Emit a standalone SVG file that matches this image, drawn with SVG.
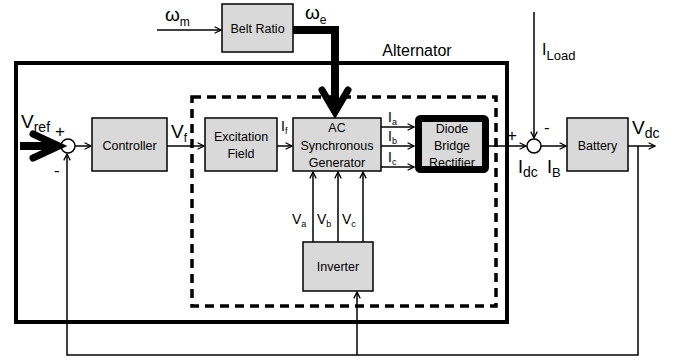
<svg xmlns="http://www.w3.org/2000/svg" width="677" height="364" viewBox="0 0 677 364">
<defs>
<style>
text{font-family:"Liberation Sans",Arial,sans-serif;fill:#000}
.box{fill:#d9d9d9;stroke:#000;stroke-width:1.5}
.lbl{font-size:12.5px;text-anchor:middle}
.sym{font-size:19px}
.sub{font-size:12px}
.w{fill:none;stroke:#000;stroke-width:1.5}
.thick{fill:none;stroke:#000;stroke-width:8}
</style>
<marker id="ah" viewBox="0 0 10 10" refX="9" refY="5" markerWidth="8" markerHeight="8" markerUnits="userSpaceOnUse" orient="auto">
<path d="M1,1 L9,5 L1,9" fill="none" stroke="#000" stroke-width="1.6"/>
</marker>
</defs>
<g id="alternator">
<rect x="16" y="63" width="491" height="259" fill="none" stroke="#000" stroke-width="4"/>
<text x="417" y="56" font-size="16" text-anchor="middle">Alternator</text>
</g>
<g id="dashed-region">
<rect x="192" y="97" width="304" height="209" fill="none" stroke="#000" stroke-width="3.5" stroke-dasharray="9,6"/>
</g>
<g id="belt-ratio">
<rect class="box" x="222" y="4" width="71" height="48"/>
<text class="lbl" x="257.5" y="33">Belt Ratio</text>
</g>
<g id="controller">
<rect class="box" x="92" y="118" width="75" height="53"/>
<text class="lbl" x="129.5" y="150">Controller</text>
</g>
<g id="excitation-field">
<rect class="box" x="205" y="118" width="72" height="53"/>
<text class="lbl" x="241" y="141">Excitation</text>
<text class="lbl" x="241" y="158">Field</text>
</g>
<g id="generator">
<rect class="box" x="293" y="118" width="88" height="53"/>
<text class="lbl" x="337" y="132">AC</text>
<text class="lbl" x="337" y="150">Synchronous</text>
<text class="lbl" x="337" y="167">Generator</text>
</g>
<g id="rectifier">
<rect x="418.5" y="118.5" width="67" height="51" rx="2" fill="#d9d9d9" stroke="#000" stroke-width="7"/>
<text class="lbl" x="452" y="133">Diode</text>
<text class="lbl" x="452" y="150">Bridge</text>
<text class="lbl" x="452" y="167">Rectifier</text>
</g>
<g id="battery">
<rect class="box" x="567" y="118" width="61" height="53"/>
<text class="lbl" x="597.5" y="150">Battery</text>
</g>
<g id="inverter">
<rect class="box" x="303" y="242" width="70" height="49"/>
<text class="lbl" x="338" y="271">Inverter</text>
</g>
<g id="sum1">
<circle cx="68" cy="146" r="7" fill="#fff" stroke="#000" stroke-width="1.5"/>
<text x="55" y="137" font-size="17">+</text>
<text x="54" y="176" font-size="17">-</text>
</g>
<g id="sum2">
<circle cx="534" cy="146" r="7" fill="#fff" stroke="#000" stroke-width="1.5"/>
<text x="507" y="141" font-size="17">+</text>
<text x="544" y="133" font-size="17">-</text>
</g>
<g id="connectors">
<line class="w" x1="157" y1="30" x2="221" y2="30" marker-end="url(#ah)"/>
<polyline class="thick" points="293,30 335,30 335,108" stroke-linejoin="miter"/>
<polyline points="322,90 335,112 348,90" fill="none" stroke="#000" stroke-width="7" stroke-linecap="round"/>
<line class="thick" x1="20" y1="146" x2="52" y2="146" stroke-width="7"/>
<polyline points="33,134 59,146 33,158" fill="none" stroke="#000" stroke-width="7" stroke-linecap="round"/>
<line class="w" x1="75" y1="146" x2="91" y2="146" marker-end="url(#ah)"/>
<line class="w" x1="167" y1="146" x2="204" y2="146" marker-end="url(#ah)"/>
<line class="w" x1="277" y1="146" x2="292" y2="146" marker-end="url(#ah)"/>
<line class="w" x1="381" y1="127" x2="414" y2="127" marker-end="url(#ah)"/>
<line class="w" x1="381" y1="146" x2="414" y2="146" marker-end="url(#ah)"/>
<line class="w" x1="381" y1="167" x2="414" y2="167" marker-end="url(#ah)"/>
<line class="w" x1="489" y1="146" x2="526" y2="146" marker-end="url(#ah)"/>
<line class="w" x1="534" y1="12" x2="534" y2="138" marker-end="url(#ah)"/>
<line class="w" x1="541" y1="146" x2="566" y2="146" marker-end="url(#ah)"/>
<line class="w" x1="628" y1="146" x2="655" y2="146" marker-end="url(#ah)"/>
<polyline class="w" points="638,146 638,355 67,355 67,154" marker-end="url(#ah)"/>
<line class="w" x1="357" y1="355" x2="357" y2="292" marker-end="url(#ah)"/>
<line class="w" x1="313" y1="242" x2="313" y2="172" marker-end="url(#ah)"/>
<line class="w" x1="338" y1="242" x2="338" y2="172" marker-end="url(#ah)"/>
<line class="w" x1="363" y1="242" x2="363" y2="172" marker-end="url(#ah)"/>
</g>
<g id="labels">
<text x="165" y="21"><tspan class="sym">ω</tspan><tspan class="sub" dy="5">m</tspan></text>
<text x="305" y="19"><tspan class="sym">ω</tspan><tspan class="sub" dy="5">e</tspan></text>
<text x="21" y="128"><tspan font-size="19">V</tspan><tspan font-size="14" dy="4">ref</tspan></text>
<text x="171" y="138"><tspan font-size="19">V</tspan><tspan class="sub" dy="4">f</tspan></text>
<text x="281" y="131"><tspan font-size="14">I</tspan><tspan font-size="9" dy="3">f</tspan></text>
<text x="388" y="122"><tspan font-size="14">I</tspan><tspan font-size="9" dy="3">a</tspan></text>
<text x="388" y="141"><tspan font-size="14">I</tspan><tspan font-size="9" dy="3">b</tspan></text>
<text x="388" y="162"><tspan font-size="14">I</tspan><tspan font-size="9" dy="3">c</tspan></text>
<text x="542" y="55"><tspan font-size="16">I</tspan><tspan font-size="13" dy="5">Load</tspan></text>
<text x="518" y="173"><tspan font-size="18">I</tspan><tspan font-size="14" dy="4">dc</tspan></text>
<text x="547" y="173"><tspan font-size="18">I</tspan><tspan font-size="13" dy="4">B</tspan></text>
<text x="632" y="134"><tspan font-size="19">V</tspan><tspan font-size="14" dy="4">dc</tspan></text>
<text x="292" y="224"><tspan font-size="14">V</tspan><tspan font-size="9" dy="3">a</tspan></text>
<text x="317" y="224"><tspan font-size="14">V</tspan><tspan font-size="9" dy="3">b</tspan></text>
<text x="342" y="224"><tspan font-size="14">V</tspan><tspan font-size="9" dy="3">c</tspan></text>
</g>
</svg>
